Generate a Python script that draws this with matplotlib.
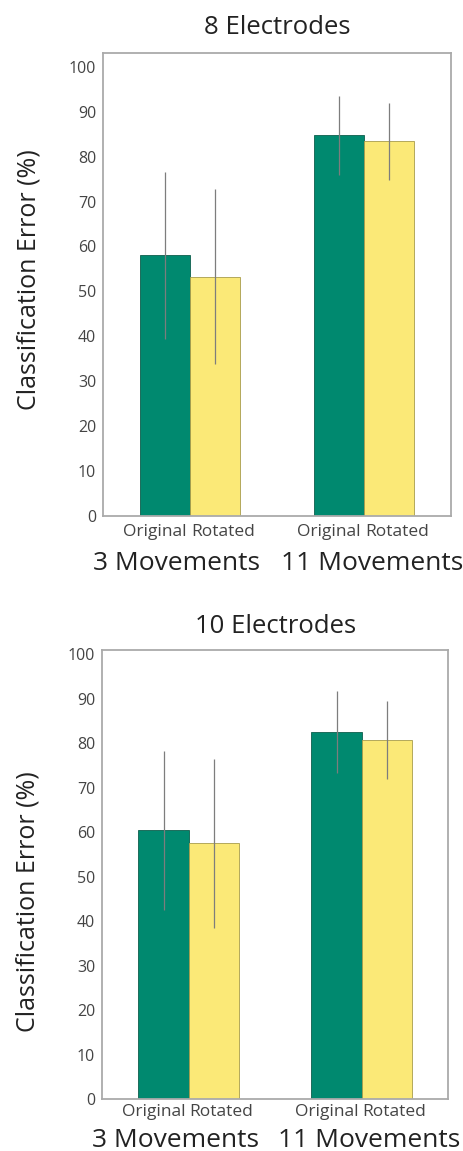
import numpy as np
import matplotlib
matplotlib.use("Agg")
import matplotlib.pyplot as plt

plt.rcParams['font.family'] = ['Open Sans', 'DejaVu Sans']

# data
groups = ['3 Movements', '11 Movements']
series = ['Original', 'Rotated']
titles = ['8 Electrodes', '10 Electrodes']

orig_8 = [58.0, 84.8]
rot_8 = [53.3, 83.4]
orig_8_err = [18.5, 8.8]
rot_8_err = [19.4, 8.5]

orig_10 = [60.4, 82.5]
rot_10 = [57.5, 80.7]
orig_10_err = [17.8, 9.2]
rot_10_err = [19.0, 8.8]

yticks = [0, 10, 20, 30, 40, 50, 60, 70, 80, 90, 100]

green = '#00896f'
yellow = '#fbe977'

fig = plt.figure(figsize=(4.64, 11.51), dpi=100)
ax1 = fig.add_axes([0.222, 0.5517, 0.750, 0.4020])
ax2 = fig.add_axes([0.220, 0.0452, 0.746, 0.3901])

# ax, title, values..., ylim top, title pad, label y, series-label offset, group-label offset
panels = [
    (ax1, titles[0], orig_8, rot_8, orig_8_err, rot_8_err, 103.0, 14.0, 0.51, -0.034, -0.102),
    (ax2, titles[1], orig_10, rot_10, orig_10_err, rot_10_err, 101.0, 12.5, 0.44, -0.030, -0.092),
]

w = 0.29
x = np.arange(len(groups))
gshift = [-0.075, 0.045]

for ax, title, o, r, oe, re_, ytop, tpad, ly, sy, gy in panels:
    ax.bar(x - w / 2, o, w, color=green, edgecolor='#0d5e4c', linewidth=0.6)
    ax.bar(x + w / 2, r, w, color=yellow, edgecolor='#a89c4c', linewidth=0.6)
    ax.errorbar(x - w / 2, o, yerr=oe, fmt='none', ecolor='#7d7d7d',
                elinewidth=0.9, capsize=0)
    ax.errorbar(x + w / 2, r, yerr=re_, fmt='none', ecolor='#7d7d7d',
                elinewidth=0.9, capsize=0)

    ax.set_xlim(-0.5, 1.5)
    ax.set_ylim(0, ytop)
    ax.set_yticks(yticks)
    ax.set_yticklabels([str(t) for t in yticks], fontsize=11.5, color='#444444')
    ax.tick_params(axis='y', length=0, pad=5)
    ax.set_xticks([])

    trans = ax.get_xaxis_transform()
    for i, g in enumerate(groups):
        ax.text(x[i] - 0.02, sy, series[0], transform=trans, ha='right',
                va='center', fontsize=12.5, color='#444444')
        ax.text(x[i] + 0.005, sy, series[1], transform=trans, ha='left',
                va='center', fontsize=12.5, color='#444444')
        ax.text(x[i] + gshift[i], gy, g, transform=trans,
                ha='center', va='center', fontsize=19, color='#222222')

    for s in ax.spines.values():
        s.set_color('#aaaaaa')
        s.set_linewidth(1.3)

    ax.set_title(title, fontsize=18.5, color='#222222', pad=tpad)
    ax.set_ylabel('Classification Error (%)', fontsize=18, color='#222222')
    ax.yaxis.set_label_coords(-0.178, ly)

fig.savefig('out.png', dpi=100)
